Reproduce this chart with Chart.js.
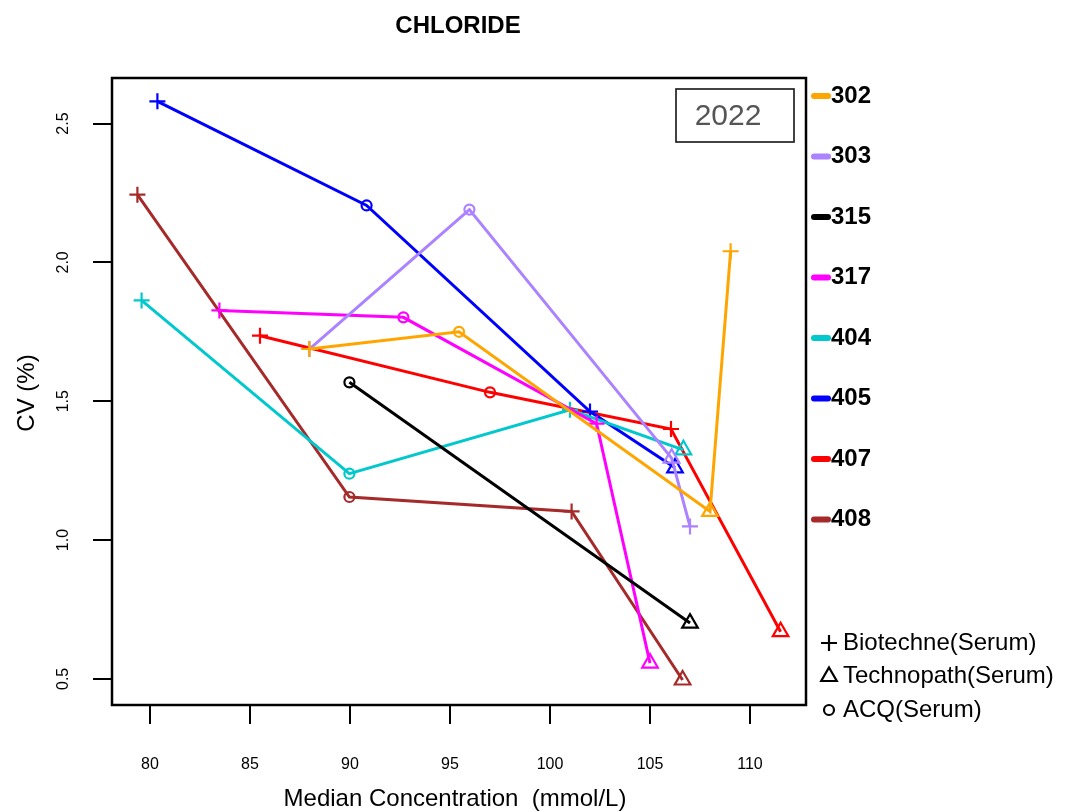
<!DOCTYPE html>
<html lang="en">
<head>
<meta charset="UTF-8">
<title>CHLORIDE – CV vs Median Concentration</title>
<script src="https://cdn.jsdelivr.net/npm/chart.js"></script>
<style>
  html, body { margin: 0; padding: 0; background: #fff; }
  #wrap { width: 1069px; height: 811px; }
</style>
</head>
<body>
<div id="wrap"><canvas id="chart" width="1069" height="811"></canvas></div>
<script>
const labs = ['302', '303', '315', '317', '404', '405', '407', '408'];
const labColors = ['#FFA500', '#AB82FF', '#000000', '#FF00FF', '#00C8CD', '#0000FF', '#FF0000', '#A52A2A'];
const products = ['Biotechne(Serum)', 'Technopath(Serum)', 'ACQ(Serum)'];
const productCodes = ['B', 'T', 'A'];
const xTicks = [80, 85, 90, 95, 100, 105, 110];
const xTickLabels = ['80', '85', '90', '95', '100', '105', '110'];
const yTicks = [0.5, 1.0, 1.5, 2.0, 2.5];
const yTickLabels = ['0.5', '1.0', '1.5', '2.0', '2.5'];

// median concentration (mmol/L), CV (%), source material: B = Biotechne, T = Technopath, A = ACQ
const conc302 = [87.97, 95.45, 108.0, 109.03];
const cv302   = [1.688, 1.750, 1.103, 2.040];
const src302  = ['B', 'A', 'T', 'B'];

const conc303 = [87.97, 95.97, 106.08, 107.0];
const cv303   = [1.688, 2.190, 1.295, 1.049];
const src303  = ['B', 'A', 'T', 'B'];

const conc315 = [89.97, 107.0];
const cv315   = [1.568, 0.701];
const src315  = ['A', 'T'];

const conc317 = [83.47, 92.67, 102.33, 105.0];
const cv317   = [1.827, 1.802, 1.419, 0.557];
const src317  = ['B', 'A', 'B', 'T'];

const conc404 = [79.58, 89.97, 101.0, 106.67];
const cv404   = [1.863, 1.239, 1.469, 1.325];
const src404  = ['B', 'A', 'B', 'T'];

const conc405 = [80.37, 90.83, 102.0, 106.25];
const cv405   = [2.580, 2.205, 1.463, 1.260];
const src405  = ['B', 'A', 'B', 'T'];

const conc407 = [85.5, 97.0, 106.05, 111.53];
const cv407   = [1.736, 1.532, 1.400, 0.670];
const src407  = ['B', 'A', 'B', 'T'];

const conc408 = [79.37, 89.97, 101.08, 106.63];
const cv408   = [2.244, 1.155, 1.103, 0.496];
const src408  = ['B', 'A', 'B', 'T'];

const series = [
  [conc302, cv302, src302], [conc303, cv303, src303], [conc315, cv315, src315], [conc317, cv317, src317],
  [conc404, cv404, src404], [conc405, cv405, src405], [conc407, cv407, src407], [conc408, cv408, src408]
];

const FONT = '"Liberation Sans", Arial, Helvetica, sans-serif';
const styleOf = { B: 'cross', T: 'triangle', A: 'circle' };
const radiusOf = { B: 8, T: 9, A: 5 };

const datasets = series.map(([xs, ys, src], i) => ({
  label: labs[i],
  data: xs.map((x, j) => ({ x: x, y: ys[j] })),
  showLine: true,
  tension: 0,
  borderColor: labColors[i],
  borderWidth: 3,
  pointStyle: src.map(s => styleOf[s]),
  pointRadius: src.map(s => radiusOf[s]),
  pointBorderColor: labColors[i],
  pointBackgroundColor: 'rgba(0,0,0,0)',
  pointBorderWidth: 2.2
}));

// title, axis titles, box, year tag and the two legends
const decor = {
  id: 'decor',
  afterDraw(chart) {
    const { ctx, chartArea: a } = chart;
    ctx.save();
    ctx.strokeStyle = '#000';
    ctx.lineWidth = 2.5;
    ctx.strokeRect(a.left, a.top, a.right - a.left, a.bottom - a.top);

    ctx.fillStyle = '#000';
    ctx.textAlign = 'center';
    ctx.textBaseline = 'middle';
    ctx.font = 'bold 24px ' + FONT;
    ctx.fillText('CHLORIDE', 458, 26);

    ctx.font = '24px ' + FONT;
    ctx.fillText('Median Concentration  (mmol/L)', 455, 799);

    ctx.save();
    ctx.translate(27, 393);
    ctx.rotate(-Math.PI / 2);
    ctx.fillText('CV (%)', 0, 0);
    ctx.restore();

    // year tag
    ctx.lineWidth = 1.7;
    ctx.strokeStyle = '#222';
    ctx.strokeRect(676, 89, 118, 53);
    ctx.fillStyle = '#555';
    ctx.font = '30px ' + FONT;
    ctx.fillText('2022', 728, 117);

    // lab legend
    ctx.textAlign = 'left';
    ctx.lineCap = 'round';
    labs.forEach((lab, i) => {
      const y = 96 + i * 60.5;
      ctx.strokeStyle = labColors[i];
      ctx.lineWidth = 6;
      ctx.beginPath();
      ctx.moveTo(814, y);
      ctx.lineTo(828, y);
      ctx.stroke();
      ctx.fillStyle = '#000';
      ctx.font = 'bold 24px ' + FONT;
      ctx.fillText(lab, 831, y);
    });

    // material legend (open symbols)
    ctx.lineCap = 'butt';
    products.forEach((p, i) => {
      const y = 643 + i * 33.5;
      const code = productCodes[i];
      ctx.strokeStyle = '#000';
      ctx.fillStyle = 'rgba(0,0,0,0)';
      ctx.lineWidth = 2.2;
      Chart.helpers.drawPoint(ctx, {
        pointStyle: styleOf[code], radius: radiusOf[code], borderWidth: 2.2, rotation: 0
      }, 829, y);
      ctx.fillStyle = '#000';
      ctx.font = '24px ' + FONT;
      ctx.fillText(p, 843, y);
    });
    ctx.restore();
  }
};

new Chart(document.getElementById('chart'), {
  type: 'scatter',
  data: { datasets },
  options: {
    responsive: false,
    devicePixelRatio: 1,
    animation: false,
    events: [],
    layout: { autoPadding: false, padding: { left: 0, top: 78, right: 263, bottom: 0 } },
    plugins: { legend: { display: false }, tooltip: { enabled: false }, title: { display: false } },
    scales: {
      x: {
        type: 'linear',
        min: 78.1,
        max: 112.8,
        afterBuildTicks: s => { s.ticks = xTicks.map(v => ({ value: v })); },
        afterFit: s => { s.height = 106; },
        border: { display: false },
        grid: { drawOnChartArea: false, drawTicks: true, tickLength: 19, color: '#000', lineWidth: 2 },
        ticks: {
          autoSkip: false, maxRotation: 0, padding: 31, color: '#000',
          font: { size: 16, family: FONT },
          callback: (v, i) => xTickLabels[i]
        }
      },
      y: {
        type: 'linear',
        min: 0.406,
        max: 2.664,
        afterBuildTicks: s => { s.ticks = yTicks.map(v => ({ value: v })); },
        afterFit: s => { s.width = 112; },
        border: { display: false },
        grid: { drawOnChartArea: false, drawTicks: true, tickLength: 19, color: '#000', lineWidth: 2 },
        ticks: {
          autoSkip: false, minRotation: 90, maxRotation: 90, crossAlign: 'center', padding: 18, color: '#000',
          font: { size: 16, family: FONT },
          callback: (v, i) => yTickLabels[i]
        }
      }
    }
  },
  plugins: [decor]
});
</script>
</body>
</html>
